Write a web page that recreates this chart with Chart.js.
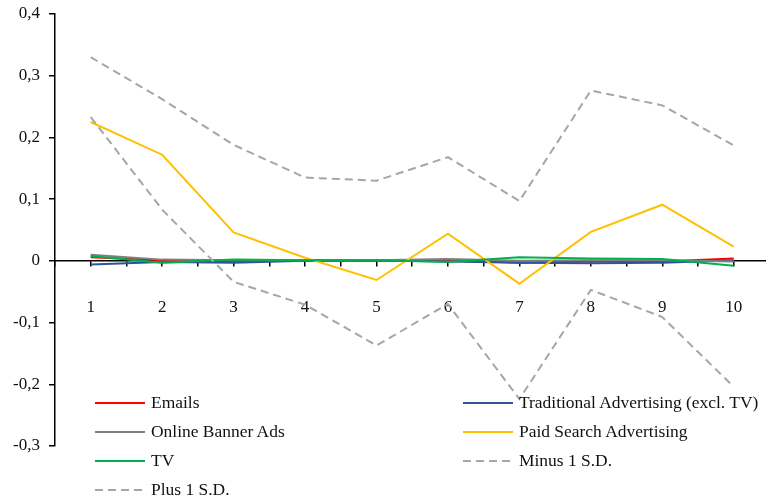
<!DOCTYPE html>
<html>
<head>
<meta charset="utf-8">
<script src="https://cdn.jsdelivr.net/npm/chart.js@4/dist/chart.umd.min.js"></script>
<style>
  html, body { margin: 0; padding: 0; background: #fff; }
  #wrap { position: relative; width: 766px; height: 503px; overflow: hidden; }
  #legend { position: absolute; left: 0; top: 0; width: 766px; height: 503px; pointer-events: none; }
  .item { position: absolute; height: 20px; display: flex; align-items: center;
          font-family: "Liberation Serif", "Times New Roman", serif; font-size: 16px; color: #111; white-space: nowrap; }
  .swatch { width: 50px; height: 2px; margin-right: 6px; flex: none; }
  .item span { display: inline-block; transform: scaleX(1.09); transform-origin: left center; }
</style>
</head>
<body>
<div id="wrap">
  <canvas id="chart" width="766" height="503"></canvas>
  <div id="legend"></div>
</div>
<script>
// Period labels on the x axis
const categories = ['1', '2', '3', '4', '5', '6', '7', '8', '9', '10'];

// Effect per channel by period
const emails      = [0.006, 0.001, -0.002, 0.001, 0.000, 0.001, -0.003, -0.001, -0.001, 0.004];
const traditional = [-0.006, -0.002, -0.003, 0.000, 0.001, -0.001, -0.003, -0.004, -0.003, 0.001];
const banner      = [0.010, 0.002, 0.001, 0.001, 0.001, 0.003, 0.000, 0.001, 0.001, -0.001];
const paidSearch  = [0.225, 0.172, 0.046, 0.005, -0.031, 0.044, -0.037, 0.047, 0.091, 0.023];
const tv          = [0.008, -0.003, 0.002, 0.001, 0.001, -0.002, 0.006, 0.004, 0.003, -0.008];

// Standard deviation band
const minus1sd = [0.233, 0.083, -0.034, -0.071, -0.137, -0.070, -0.224, -0.047, -0.091, -0.204];
const plus1sd  = [0.330, 0.262, 0.188, 0.135, 0.130, 0.168, 0.097, 0.276, 0.252, 0.187];

// Y axis tick values
const yTicks = [-0.3, -0.2, -0.1, 0, 0.1, 0.2, 0.3, 0.4];

const series = [
  { label: 'Emails', data: emails, color: '#FF0000' },
  { label: 'Traditional Advertising (excl. TV)', data: traditional, color: '#2E5597' },
  { label: 'Online Banner Ads', data: banner, color: '#7F7F7F' },
  { label: 'Paid Search Advertising', data: paidSearch, color: '#FFC000' },
  { label: 'TV', data: tv, color: '#00B050' },
  { label: 'Minus 1 S.D.', data: minus1sd, color: '#A6A6A6', dashed: true },
  { label: 'Plus 1 S.D.', data: plus1sd, color: '#A6A6A6', dashed: true }
];

const toPoints = arr => arr.map((v, i) => ({ x: i + 1, y: v }));

const datasets = series.map((s, i) => ({
  label: s.label,
  data: toPoints(s.data),
  borderColor: s.color,
  backgroundColor: s.color,
  borderWidth: 2,
  borderDash: s.dashed ? [8, 5] : [],
  pointRadius: 0,
  tension: 0,
  fill: false,
  order: series.length - i   // later series sit on top
}));

const font = { family: '"Liberation Serif", "Times New Roman", serif', size: 17 };
const fmt = v => (Math.abs(v) < 1e-9 ? '0' : v.toFixed(1).replace('.', ','));

const chart = new Chart(document.getElementById('chart'), {
  type: 'line',
  data: { datasets },
  options: {
    responsive: false,
    animation: false,
    devicePixelRatio: 1,
    layout: { padding: { top: 14, right: 0, bottom: 57, left: 0 } },
    plugins: { legend: { display: false }, tooltip: { enabled: false } },
    scales: {
      x: {
        type: 'linear',
        position: { y: 0 },
        min: 0.5,
        max: 10.452,
        afterBuildTicks: axis => {
          const t = [];
          categories.forEach((c, i) => { t.push({ value: i + 0.5 }); t.push({ value: i + 1 }); });
          axis.ticks = t;
        },
        afterFit: axis => { axis.paddingLeft = 0; axis.paddingRight = 0; },
        ticks: {
          autoSkip: false,
          maxRotation: 0,
          padding: 31,
          color: '#111',
          font,
          callback: v => (Number.isInteger(v) ? categories[v - 1] : '')
        },
        grid: { drawOnChartArea: false, drawTicks: true, tickLength: 5, color: '#000', lineWidth: 1.5 },
        border: { display: true, color: '#000', width: 1.5 }
      },
      y: {
        type: 'linear',
        position: 'left',
        min: -0.3,
        max: 0.4,
        afterBuildTicks: axis => { axis.ticks = yTicks.map(v => ({ value: v })); },
        afterFit: axis => { axis.width = 55; axis.paddingTop = 0; axis.paddingBottom = 0; },
        ticks: { padding: 9, color: '#111', font, callback: v => fmt(v) },
        grid: { drawOnChartArea: false, drawTicks: true, tickLength: 6, color: '#000', lineWidth: 1.5 },
        border: { display: true, color: '#000', width: 1.5 }
      }
    }
  }
});

// Two-column legend placed over the lower part of the plot
const legend = document.getElementById('legend');
const colX = [95, 463];
const rowY = [403, 432, 461, 490];
chart.data.datasets.forEach((ds, i) => {
  const item = document.createElement('div');
  item.className = 'item';
  item.style.left = colX[i % 2] + 'px';
  item.style.top = (rowY[Math.floor(i / 2)] - 10) + 'px';
  const sw = document.createElement('div');
  sw.className = 'swatch';
  if (ds.borderDash.length) {
    sw.style.background = `repeating-linear-gradient(to right, ${ds.borderColor} 0 8px, transparent 8px 13px)`;
  } else {
    sw.style.background = ds.borderColor;
  }
  const txt = document.createElement('span');
  txt.textContent = ds.label;
  item.appendChild(sw);
  item.appendChild(txt);
  legend.appendChild(item);
});
</script>
</body>
</html>
